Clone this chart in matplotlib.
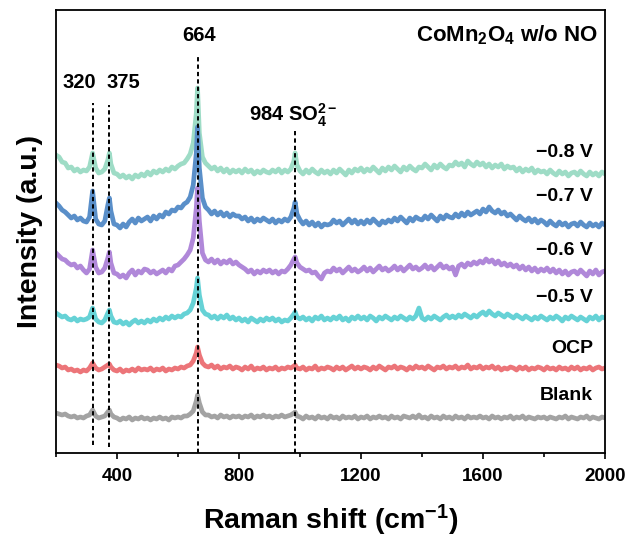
import matplotlib
matplotlib.use("Agg")
import matplotlib.pyplot as plt
from matplotlib.ticker import MultipleLocator

plt.rcParams['font.family'] = ['Liberation Sans', 'DejaVu Sans']
plt.rcParams['font.weight'] = 'bold'
plt.rcParams['mathtext.fontset'] = 'custom'
plt.rcParams['mathtext.rm'] = 'Liberation Sans:bold'
plt.rcParams['mathtext.it'] = 'Liberation Sans:bold'
plt.rcParams['mathtext.bf'] = 'Liberation Sans:bold'
plt.rcParams['mathtext.default'] = 'rm'

# ---- data -------------------------------------------------------------
raman_shift = (list(range(200, 300, 10))
               + [300, 310, 320, 330, 340, 350, 360, 370, 375, 380, 390]
               + list(range(400, 600, 10))
               + [600, 610, 620, 630, 640, 650, 660, 664, 670, 680, 690]
               + list(range(700, 900, 10))
               + [900, 910, 920, 930, 940, 950, 960, 970, 980, 984, 990]
               + list(range(1000, 2001, 10)))

s_m08 = [298, 296, 291, 290, 285, 286, 282, 284, 281, 283,
         282, 286, 300, 285, 280, 281, 284, 293, 300, 289, 280,
         279, 276, 278, 275, 277, 274, 278, 276, 279, 277,
         281, 278, 282, 280, 283, 281, 284, 282, 286, 284,
         287, 289, 290, 294, 299, 310, 340, 365, 320, 296, 290,
         287, 284, 286, 282, 285, 281, 284, 280, 283, 281,
         283, 280, 284, 281, 283, 279, 282, 280, 283, 281,
         280, 283, 281, 284, 280, 283, 281, 284, 292, 300, 288,
         282, 279, 283, 280, 284, 281, 279, 283, 280, 282,
         279, 283, 280, 284, 281, 278, 283, 280, 284, 282,
         285, 281, 284, 282, 286, 283, 280, 285, 282, 286,
         283, 287, 284, 281, 286, 283, 287, 284, 282, 286,
         285, 289, 286, 283, 288, 285, 289, 286, 284, 288,
         287, 291, 288, 290, 286, 292, 289, 287, 291, 288,
         290, 286, 289, 285, 288, 286, 289, 284, 287, 285,
         286, 282, 285, 281, 284, 282, 285, 280, 283, 281,
         282, 279, 283, 280, 278, 282, 279, 281, 277, 280,
         281, 278, 282, 279, 277, 281, 278, 280, 277, 281,
         279]

s_m07 = [250, 247, 243, 241, 238, 235, 237, 233, 235, 232,
         231, 236, 262, 234, 229, 228, 232, 248, 255, 242, 229,
         228, 225, 229, 226, 231, 234, 230, 235, 232, 234,
         236, 232, 237, 234, 238, 236, 241, 239, 243, 242,
         246, 245, 249, 251, 256, 268, 300, 326, 285, 255, 246,
         243, 239, 242, 238, 241, 237, 240, 236, 239, 237,
         237, 234, 236, 232, 235, 231, 234, 232, 235, 233,
         231, 234, 230, 233, 231, 234, 232, 236, 245, 251, 239,
         233, 229, 232, 228, 231, 227, 230, 226, 229, 228,
         229, 233, 230, 232, 228, 231, 234, 230, 233, 229,
         232, 229, 233, 230, 234, 231, 228, 232, 230, 233,
         231, 235, 232, 236, 233, 230, 235, 232, 236, 234,
         233, 237, 234, 238, 235, 232, 237, 234, 238, 236,
         235, 239, 236, 240, 237, 241, 238, 240, 242, 239,
         244, 241, 246, 242, 240, 243, 239, 241, 237, 239,
         236, 233, 237, 234, 232, 235, 231, 234, 230, 233,
         231, 228, 232, 229, 227, 231, 228, 230, 226, 229,
         230, 227, 231, 228, 226, 230, 227, 229, 226, 230,
         228]

s_m06 = [200, 197, 194, 193, 190, 188, 189, 185, 187, 183,
         180, 184, 203, 186, 180, 181, 185, 195, 201, 190, 180,
         179, 176, 178, 175, 180, 183, 178, 182, 180, 184,
         183, 180, 182, 179, 181, 183, 180, 184, 182, 187,
         188, 191, 194, 198, 203, 215, 245, 265, 232, 200, 193,
         191, 194, 190, 193, 189, 192, 190, 193, 189, 191,
         188, 186, 184, 181, 183, 179, 182, 180, 183, 181,
         183, 180, 182, 179, 182, 181, 184, 188, 194, 196, 190,
         186, 184, 182, 183, 180, 181, 177, 174, 180, 182,
         181, 185, 182, 184, 180, 183, 186, 182, 184, 181,
         183, 186, 182, 185, 181, 184, 187, 183, 185, 182,
         184, 187, 183, 186, 182, 185, 188, 184, 186, 183,
         185, 188, 184, 187, 183, 186, 189, 185, 187, 184,
         186, 178, 187, 189, 186, 190, 188, 191, 189, 192,
         190, 194, 191, 193, 189, 192, 188, 190, 187, 189,
         186, 188, 184, 187, 183, 186, 182, 185, 181, 184,
         182, 185, 181, 184, 180, 183, 179, 182, 178, 181,
         182, 179, 183, 180, 177, 182, 179, 183, 178, 181,
         182]

s_m05 = [140, 138, 136, 137, 134, 133, 135, 132, 134, 133,
         134, 136, 145, 134, 131, 130, 133, 140, 143, 137, 131,
         130, 132, 129, 131, 128, 131, 133, 130, 132, 130,
         133, 131, 134, 132, 135, 133, 136, 134, 137, 135,
         137, 136, 139, 140, 143, 150, 165, 175, 158, 143, 139,
         138, 135, 137, 134, 137, 135, 138, 134, 136, 133,
         135, 132, 134, 131, 135, 133, 131, 134, 132, 135,
         133, 135, 132, 134, 131, 133, 132, 135, 139, 141, 136,
         134, 136, 133, 135, 132, 136, 134, 137, 133, 135,
         133, 136, 134, 137, 133, 135, 132, 136, 134, 137,
         134, 136, 133, 137, 135, 132, 136, 134, 137, 135,
         133, 136, 134, 137, 135, 133, 136, 134, 137, 145,
         135, 133, 136, 134, 137, 135, 133, 136, 138, 135,
         137, 135, 138, 136, 139, 137, 135, 138, 136, 139,
         141, 138, 142, 139, 137, 140, 138, 136, 139, 137,
         135, 138, 136, 134, 137, 135, 133, 136, 134, 137,
         135, 133, 136, 134, 137, 135, 132, 136, 134, 137,
         135, 133, 136, 134, 132, 136, 134, 137, 133, 136,
         135]

s_ocp = [88, 87, 85, 86, 83, 84, 82, 83, 81, 83,
         82, 85, 90, 85, 83, 84, 86, 88, 89, 86, 83,
         82, 84, 81, 83, 82, 84, 82, 85, 83, 84,
         83, 85, 82, 84, 83, 85, 82, 84, 83, 85,
         84, 86, 85, 87, 88, 92, 100, 106, 98, 90, 87,
         86, 88, 85, 87, 84, 86, 85, 87, 84, 86,
         85, 83, 86, 84, 87, 83, 85, 84, 86, 83,
         85, 84, 86, 83, 85, 84, 86, 85, 87, 88, 85,
         84, 86, 83, 85, 84, 87, 83, 85, 84, 86,
         85, 83, 86, 84, 86, 83, 85, 87, 84, 86,
         84, 86, 85, 83, 86, 84, 87, 85, 83, 86,
         85, 87, 84, 86, 85, 83, 86, 84, 87, 85,
         86, 84, 87, 85, 83, 86, 85, 87, 84, 86,
         85, 87, 84, 86, 85, 88, 84, 86, 85, 87,
         84, 86, 85, 87, 84, 86, 83, 85, 84, 86,
         85, 83, 86, 84, 86, 83, 85, 84, 86, 85,
         83, 86, 84, 85, 83, 86, 84, 85, 83, 86,
         84, 86, 83, 85, 84, 86, 83, 85, 86, 84,
         85]

s_blank = [40, 39, 38, 39, 37, 36, 37, 35, 36, 35,
           37, 38, 43, 37, 35, 36, 37, 41, 43, 39, 36,
           35, 33, 35, 34, 36, 33, 35, 34, 36, 34,
           35, 33, 35, 34, 36, 34, 35, 33, 36, 35,
           36, 35, 37, 37, 39, 42, 52, 58, 50, 41, 38,
           38, 36, 37, 35, 38, 36, 37, 35, 37, 36,
           37, 35, 37, 36, 38, 35, 37, 36, 38, 36,
           37, 35, 37, 36, 38, 36, 37, 38, 40, 41, 37,
           36, 34, 37, 35, 36, 34, 37, 35, 36, 34,
           37, 35, 36, 34, 37, 35, 36, 35, 37, 34,
           36, 35, 37, 34, 36, 35, 37, 35, 36, 34,
           37, 35, 36, 34, 37, 36, 35, 37, 35, 38,
           35, 36, 34, 37, 35, 36, 34, 37, 35, 36,
           34, 37, 35, 36, 34, 37, 35, 36, 35, 37,
           35, 36, 34, 37, 35, 36, 34, 36, 35, 37,
           34, 36, 35, 37, 34, 36, 35, 34, 36, 35,
           36, 34, 36, 35, 34, 36, 35, 37, 34, 36,
           35, 34, 36, 35, 37, 34, 36, 35, 34, 36,
           35]

series_names = ['\u22120.8 V', '\u22120.7 V', '\u22120.6 V', '\u22120.5 V', 'OCP', 'Blank']
series_values = [s_m08, s_m07, s_m06, s_m05, s_ocp, s_blank]
series_colors = ['#9edcc6', '#5a8fc9', '#b088d9', '#66d2d6', '#ec7579', '#a3a3a3']
label_y = [301, 257, 203, 156, 105, 57]

peak_pos = [320, 375, 664, 984]
peak_line_top = [350, 348, 396, 323]
peak_line_bottom = [8, 6, 0, 0]

# ---- figure -------------------------------------------------------------
fig = plt.figure(figsize=(6.30, 5.37), dpi=100)
ax = fig.add_axes([56/630, 1-453/537, (605-56)/630, (453-10)/537])

for vals, col in zip(series_values, series_colors):
    ax.plot(raman_shift, vals, color=col, lw=3.4, solid_joinstyle='round')

for p, t, b in zip(peak_pos, peak_line_top, peak_line_bottom):
    ax.plot([p, p], [b, t], color='black', lw=1.4, ls=(0, (2.2, 1.6)))

ax.set_xlim(200, 2000)
ax.set_ylim(0, 443)
ax.set_yticks([])
ax.set_xticks([400, 800, 1200, 1600, 2000])
ax.xaxis.set_minor_locator(MultipleLocator(200))
ax.tick_params(axis='x', which='major', direction='out', length=4.5, width=1.2,
               labelsize=13.5, pad=6)
ax.tick_params(axis='x', which='minor', direction='out', length=3, width=1.2)
for sp in ax.spines.values():
    sp.set_linewidth(1.3)

ax.set_xlabel('Raman shift (cm$^{\u22121}$)', fontsize=20.5, fontweight='bold', labelpad=13)
ax.set_ylabel('Intensity (a.u.)', fontsize=20.5, fontweight='bold', labelpad=9)

for name, yv in zip(series_names, label_y):
    ax.text(1961, yv, name, ha='right', va='center', fontsize=14, fontweight='bold')

ax.text(1977, 418, 'CoMn$_2$O$_4$ w/o NO', ha='right', va='center', fontsize=16, fontweight='bold')
ax.text(277, 371, '320', ha='center', va='center', fontsize=14.5, fontweight='bold')
ax.text(421, 371, '375', ha='center', va='center', fontsize=14.5, fontweight='bold')
ax.text(668, 418, '664', ha='center', va='center', fontsize=14.5, fontweight='bold')
ax.text(833, 338, '984 SO$_4^{2\u2212}$', ha='left', va='center', fontsize=14.5, fontweight='bold')

fig.savefig('out.png', dpi=100)
